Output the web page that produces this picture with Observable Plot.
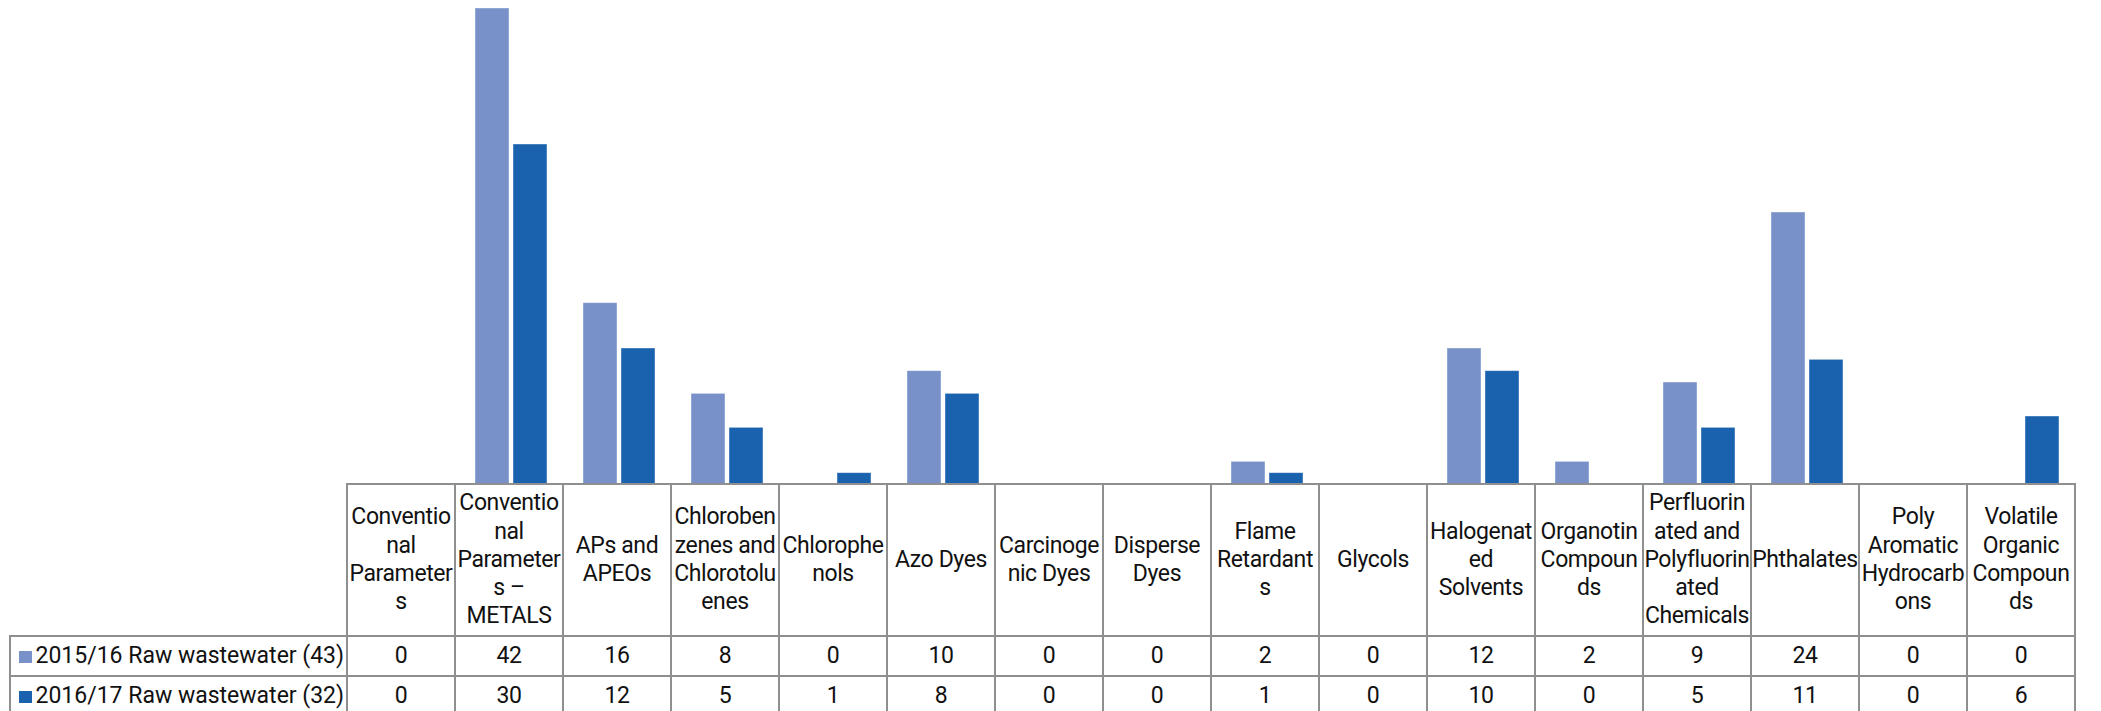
<!DOCTYPE html>
<html>
<head>
<meta charset="utf-8">
<script src="https://cdn.jsdelivr.net/npm/d3@7"></script>
<script src="https://cdn.jsdelivr.net/npm/@observablehq/plot@0.6"></script>
<style>
  html, body { margin: 0; padding: 0; background: #fff; }
  body { width: 2101px; height: 711px; position: relative; overflow: hidden; font-family: Roboto, "Liberation Sans", sans-serif; }
  #chart svg { display: block; }
  #tbl {
    position: absolute; left: 9px; top: 483px;
    border-collapse: collapse; table-layout: fixed;
    font-family: Roboto, sans-serif; font-size: 23px; letter-spacing: -0.4px; color: #111;
  }
  #tbl td { border: 2px solid #8f8f8f; padding: 0; text-align: center; overflow-wrap: anywhere; word-break: normal; }
  #tbl tr.head td { height: 150px; line-height: 28.3px; vertical-align: middle; }
  #tbl tr.head td.blank { border-top: none; border-left: none; }
  #tbl tr.row td { height: 38px; line-height: 36px; padding: 0; }
  #tbl tr.row td.leg { text-align: left; padding-left: 8px; white-space: nowrap; letter-spacing: 0; }
  .sw { display: inline-block; width: 12.5px; height: 12.5px; margin-right: 4px; vertical-align: 0px; }
</style>
</head>
<body>
<div id="chart"></div>
<table id="tbl"></table>
<script>
const categories = [
  "Conventional Parameters",
  "Conventional Parameters – METALS",
  "APs and APEOs",
  "Chlorobenzenes and Chlorotoluenes",
  "Chlorophenols",
  "Azo Dyes",
  "Carcinogenic Dyes",
  "Disperse Dyes",
  "Flame Retardants",
  "Glycols",
  "Halogenated Solvents",
  "Organotin Compounds",
  "Perfluorinated and Polyfluorinated Chemicals",
  "Phthalates",
  "Poly Aromatic Hydrocarbons",
  "Volatile Organic Compounds"
];
const seriesNames = ["2015/16 Raw wastewater (43)", "2016/17 Raw wastewater (32)"];
const values2015 = [0, 42, 16, 8, 0, 10, 0, 0, 2, 0, 12, 2, 9, 24, 0, 0];
const values2016 = [0, 30, 12, 5, 1, 8, 0, 0, 1, 0, 10, 0, 5, 11, 0, 6];
const seriesColors = ["#7891c9", "#1a62ae"];

const seriesValues = [values2015, values2016];
const data = [];
categories.forEach((c, i) => {
  seriesNames.forEach((s, j) => data.push({category: c, series: s, value: seriesValues[j][i]}));
});

const chart = Plot.plot({
  width: 2101,
  height: 485,
  marginLeft: 346,
  marginRight: 21,
  marginTop: 8,
  marginBottom: 1,
  fx: {domain: categories, padding: 0, axis: null},
  x: {domain: seriesNames, paddingInner: 0.1026, paddingOuter: 0.441, axis: null},
  y: {axis: null},
  color: {domain: seriesNames, range: seriesColors},
  marks: [
    Plot.barY(data, {fx: "category", x: "series", y: "value", fill: "series", stroke: "#ffffff", strokeOpacity: 0.5, strokeWidth: 0.8})
  ]
});
document.getElementById("chart").appendChild(chart);

// data table (axis labels + legend) below the plot, aligned to the same columns
const tbl = document.getElementById("tbl");
const fxScale = chart.scale("fx");
const colW = fxScale.bandwidth;
const firstW = 346 - 9;
tbl.style.width = (firstW + colW * categories.length) + "px";
const cg = document.createElement("colgroup");
const c0 = document.createElement("col"); c0.style.width = firstW + "px"; cg.appendChild(c0);
categories.forEach(() => { const c = document.createElement("col"); c.style.width = colW + "px"; cg.appendChild(c); });
tbl.appendChild(cg);

const hr = document.createElement("tr"); hr.className = "head";
const blank = document.createElement("td"); blank.className = "blank"; hr.appendChild(blank);
categories.forEach(c => { const td = document.createElement("td"); td.textContent = c; hr.appendChild(td); });
tbl.appendChild(hr);

seriesNames.forEach((s, j) => {
  const tr = document.createElement("tr"); tr.className = "row";
  const lg = document.createElement("td"); lg.className = "leg";
  const sw = document.createElement("span"); sw.className = "sw"; sw.style.background = seriesColors[j];
  lg.appendChild(sw); lg.appendChild(document.createTextNode(s));
  tr.appendChild(lg);
  seriesValues[j].forEach(v => { const td = document.createElement("td"); td.textContent = v; tr.appendChild(td); });
  tbl.appendChild(tr);
});
</script>
</body>
</html>
